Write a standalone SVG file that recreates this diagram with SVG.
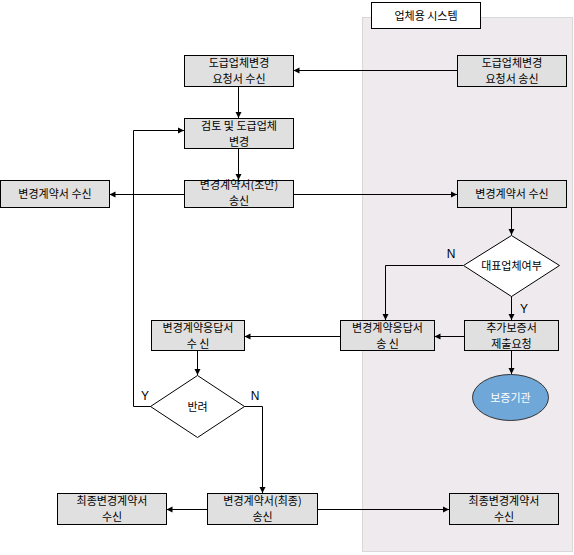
<svg xmlns="http://www.w3.org/2000/svg" width="574" height="555" viewBox="0 0 574 555">
<defs>
<marker id="ah" markerWidth="8" markerHeight="8" refX="7" refY="4" orient="auto" markerUnits="userSpaceOnUse">
<path d="M1,1 L7,4 L1,7 Z" fill="#000"/>
</marker>
<style>
.box{fill:#E0E0E0;stroke:#000;stroke-width:1}
.dia{fill:#fff;stroke:#000;stroke-width:1}
.t{font-family:"Noto Sans CJK KR","Noto Sans",sans-serif;font-size:11px;fill:#000;text-anchor:middle}
.lbl{font-family:"Liberation Sans",Arial,sans-serif;font-size:12px;fill:#000;text-anchor:middle}
.c{fill:none;stroke:#000;stroke-width:1;marker-end:url(#ah)}
</style>
</defs>
<rect width="574" height="555" fill="#fff"/>
<g id="lane">
<rect x="362.5" y="17.5" width="210" height="534" fill="#EEEAEE" stroke="#D8D8D8"/>
<rect x="371.5" y="2.5" width="109" height="26" fill="#fff" stroke="#000"/>
<text class="t" x="426" y="20">업체용 시스템</text>
</g>
<g id="connectors">
<path class="c" d="M457,70.5 H293.5"/>
<path class="c" d="M238.5,86 V118"/>
<path class="c" d="M238.5,148 V180"/>
<path class="c" d="M184,194.5 H109.5"/>
<path class="c" d="M293,194.5 H457"/>
<path class="c" d="M511.5,207 V235"/>
<path class="c" d="M463,265.5 H385.5 V320"/>
<path class="c" d="M511.5,296 V320"/>
<path class="c" d="M464,336.5 H434.5"/>
<path class="c" d="M340,336.5 H244.5"/>
<path class="c" d="M511.5,351 V374"/>
<path class="c" d="M197.5,351 V375"/>
<path class="c" d="M151,406.5 H133.5 V130.5 H184"/>
<path class="c" d="M244,406.5 H262.5 V493"/>
<path class="c" d="M207,509.5 H166.5"/>
<path class="c" d="M317,509.5 H449"/>
<text class="lbl" x="451" y="258">N</text>
<text class="lbl" x="524" y="313">Y</text>
<text class="lbl" x="145" y="400">Y</text>
<text class="lbl" x="255" y="400">N</text>
</g>
<g id="n_req_recv">
<rect class="box" x="184.5" y="55.5" width="109" height="31"/>
<text class="t" x="239" y="67">도급업체변경</text>
<text class="t" x="239" y="83">요청서 수신</text>
</g>
<g id="n_req_send">
<rect class="box" x="457.5" y="55.5" width="109" height="31"/>
<text class="t" x="512" y="67">도급업체변경</text>
<text class="t" x="512" y="83">요청서 송신</text>
</g>
<g id="n_review">
<rect class="box" x="184.5" y="118.5" width="109" height="30"/>
<text class="t" x="239" y="130">검토 및 도급업체</text>
<text class="t" x="239" y="146">변경</text>
</g>
<g id="n_draft">
<rect class="box" x="184.5" y="180.5" width="109" height="27"/>
<text class="t" x="239" y="189">변경계약서(초안)</text>
<text class="t" x="239" y="205">송신</text>
</g>
<g id="n_left_recv">
<rect class="box" x="0.5" y="180.5" width="109" height="27"/>
<text class="t" x="55" y="198">변경계약서 수신</text>
</g>
<g id="n_right_recv">
<rect class="box" x="457.5" y="180.5" width="109" height="27"/>
<text class="t" x="512" y="198">변경계약서 수신</text>
</g>
<g id="n_rep">
<polygon class="dia" points="511.5,235.5 559.5,265.5 511.5,296.5 463.5,265.5"/>
<text class="t" x="511.5" y="270">대표업체여부</text>
</g>
<g id="n_add">
<rect class="box" x="464.5" y="320.5" width="94" height="30"/>
<text class="t" x="511.5" y="332">추가보증서</text>
<text class="t" x="511.5" y="348">제출요청</text>
</g>
<g id="n_resp_send">
<rect class="box" x="340.5" y="320.5" width="94" height="30"/>
<text class="t" x="387.5" y="332">변경계약응답서</text>
<text class="t" x="387.5" y="348">송 신</text>
</g>
<g id="n_resp_recv">
<rect class="box" x="151.5" y="320.5" width="93" height="30"/>
<text class="t" x="198" y="332">변경계약응답서</text>
<text class="t" x="198" y="348">수 신</text>
</g>
<g id="n_reject">
<polygon class="dia" points="197.5,375.5 244.5,406.5 197.5,437.5 150.5,406.5"/>
<text class="t" x="197.5" y="411">반려</text>
</g>
<g id="n_guar">
<ellipse cx="510.5" cy="397.5" rx="38" ry="23" fill="#6FA8D8" stroke="#333"/>
<text class="t" x="510.5" y="402" style="fill:#fff">보증기관</text>
</g>
<g id="n_final_left">
<rect class="box" x="57.5" y="493.5" width="109" height="31"/>
<text class="t" x="112" y="505">최종변경계약서</text>
<text class="t" x="112" y="521">수신</text>
</g>
<g id="n_final_send">
<rect class="box" x="207.5" y="493.5" width="110" height="31"/>
<text class="t" x="262.5" y="505">변경계약서(최종)</text>
<text class="t" x="262.5" y="521">송신</text>
</g>
<g id="n_final_right">
<rect class="box" x="449.5" y="493.5" width="109" height="31"/>
<text class="t" x="504" y="505">최종변경계약서</text>
<text class="t" x="504" y="521">수신</text>
</g>
</svg>
